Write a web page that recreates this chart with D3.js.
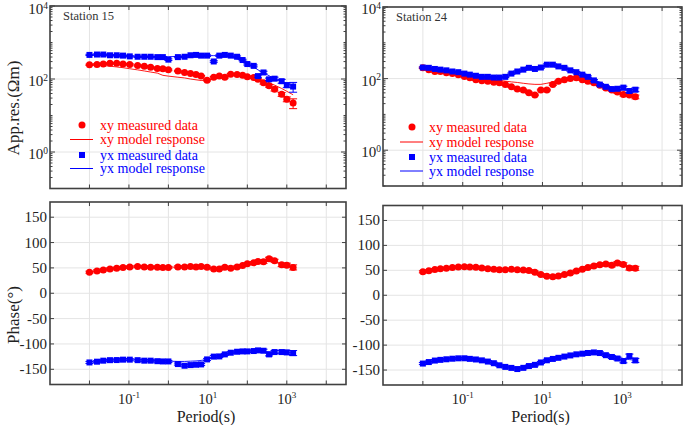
<!DOCTYPE html>
<html><head><meta charset="utf-8">
<script src="https://cdn.jsdelivr.net/npm/d3@7"></script>
<style>
body{margin:0;background:#fff}
</style>
</head><body>
<svg id="chart" width="685" height="425" font-family="'Liberation Serif', 'DejaVu Serif', serif"></svg>
<script>
// ---------------- DATA ----------------
const stationNames = ["Station 15", "Station 24"];
const legendLabels = ["xy measured data", "xy model response", "yx measured data", "yx model response"];
const rhoTickExp = [0, 2, 4];
const periodTickExp = [-1, 1, 3];
const phaseTicks = [-150, -100, -50, 0, 50, 100, 150];

// Station 15
const st15Period = [0.01, 0.0155, 0.0224, 0.0331, 0.049, 0.0708, 0.105, 0.166, 0.245, 0.355, 0.525, 0.724, 1.0,
  1.74, 2.57, 3.63, 5.01, 6.76, 9.55, 14.1, 19.5, 26.9, 38.0, 55.0, 75.9, 100, 145, 186, 257, 355, 490, 741, 1000, 1445];
const st15RhoXY = [245, 251, 257, 269, 269, 257, 251, 234, 224, 209, 195, 191, 178, 166, 151, 141, 132, 120, 93, 112,
  120, 112, 135, 132, 126, 115, 110, 98, 79, 65, 52, 38, 28, 22];
const st15RhoXYModel = [245, 240, 234, 224, 214, 204, 191, 178, 166, 155, 145, 126, 120, 112, 107, 100, 95, 91, 93, 100,
  110, 117, 123, 126, 123, 117, 110, 102, 91, 79, 68, 55, 46, 37];
const st15RhoYX = [457, 468, 468, 447, 447, 437, 417, 407, 407, 407, 398, 398, 339, 398, 407, 447, 457, 437, 437, 302,
  437, 457, 437, 407, 331, 257, 229, 120, 151, 98, 102, 87, 68, 62];
const st15RhoYXModel = [457, 457, 447, 447, 437, 437, 427, 417, 417, 407, 407, 407, 407, 417, 427, 437, 437, 437, 437, 437,
  437, 427, 398, 355, 302, 257, 214, 178, 148, 123, 102, 85, 74, 65];
const st15RhoErr = [0.04, 0.04, 0.04, 0.04, 0.04, 0.04, 0.04, 0.04, 0.04, 0.04, 0.04, 0.04, 0.05, 0.04, 0.04, 0.04, 0.04,
  0.04, 0.05, 0.05, 0.05, 0.05, 0.05, 0.05, 0.05, 0.06, 0.06, 0.07, 0.08, 0.08, 0.1, 0.12, 0.15, 0.3];
const st15PhaseXY = [41.5, 44, 46, 48, 49.5, 51, 52, 53, 52, 51.5, 51.5, 51, 51, 52, 52, 53, 52, 53, 51.5, 48,
  48, 51.5, 49.5, 52, 54.7, 58, 60, 62.6, 62, 68, 64, 56, 55.4, 51];
const st15PhaseXYModel = [42, 44.5, 46.5, 48.5, 50, 51, 52, 52.5, 52.5, 52, 51.5, 51.5, 51.5, 51.5, 52, 52, 52, 51.5, 50.5, 49.5,
  49, 49.5, 50.5, 52, 54, 56.5, 59, 61, 62.5, 63, 61.5, 58, 55, 52];
const st15PhaseYX = [-136.5, -135, -133, -132, -131.8, -131, -131, -132, -133, -133, -134, -134.5, -134.5, -139.7, -143,
  -141.7, -141, -140.4, -130.5, -125, -124.6, -120.6, -117.3, -115.4, -114.7, -114.7, -114, -112.7, -113.4, -120.6,
  -116, -116, -116.7, -118];
const st15PhaseYXModel = [-136, -134.5, -133, -132, -131.5, -131, -131, -131.5, -132, -132.5, -133, -133.5, -134, -134.5,
  -134.5, -134, -133.5, -132.5, -130.5, -127, -123.5, -121, -118.5, -117, -116, -115, -114.5, -114.5, -115, -115.5,
  -116, -116.5, -117, -117.5];
const st15PhaseErr = [2, 2, 2, 2, 2, 2, 2, 2, 2, 2, 2, 2, 2, 2, 2, 2, 2, 2, 2, 2, 2, 2, 2, 2, 2, 2, 2.5, 2.5, 3, 3, 3, 3.5, 4, 5];

// Station 24
const st24Period = [0.01, 0.0141, 0.02, 0.0275, 0.0389, 0.055, 0.0776, 0.11, 0.151, 0.214, 0.302, 0.427, 0.603, 0.832,
  1.17, 1.66, 2.34, 3.31, 4.57, 6.46, 9.12, 12.9, 18.2, 25.1, 35.5, 50.1, 70.8, 100, 138, 195, 275, 389, 550, 759,
  1072, 1514, 2138];
const st24RhoXY = [200, 178, 158, 158, 145, 138, 129, 115, 105, 93, 87, 85, 79, 76, 68, 59, 51, 48, 40, 35, 48, 48, 68,
  85, 93, 100, 105, 93, 85, 76, 65, 55, 48, 42, 36, 35, 31];
const st24RhoXYModel = [200, 186, 174, 162, 151, 141, 132, 123, 115, 107, 102, 98, 93, 89, 85, 81, 78, 74, 71, 69, 69,
  74, 81, 89, 95, 100, 100, 95, 87, 78, 68, 59, 51, 45, 39, 35, 32];
const st24RhoYX = [204, 200, 186, 178, 170, 158, 151, 138, 129, 120, 112, 112, 107, 107, 112, 138, 158, 178, 200, 186,
  204, 245, 245, 219, 200, 170, 151, 129, 112, 89, 68, 59, 51, 52, 56, 45, 49];
const st24RhoYXModel = [204, 196, 186, 178, 170, 161, 153, 144, 135, 127, 120, 114, 110, 108, 112, 125, 145, 165, 185,
  200, 215, 230, 235, 225, 205, 182, 158, 135, 114, 95, 79, 66, 57, 51, 48, 46, 45];
const st24RhoErr = [0.04, 0.04, 0.04, 0.04, 0.04, 0.04, 0.04, 0.04, 0.04, 0.04, 0.04, 0.04, 0.04, 0.04, 0.04, 0.04, 0.04,
  0.04, 0.05, 0.05, 0.05, 0.05, 0.05, 0.05, 0.05, 0.05, 0.05, 0.05, 0.06, 0.06, 0.06, 0.07, 0.07, 0.08, 0.09, 0.1, 0.12];
const st24PhaseXY = [47, 49, 51.5, 53, 54, 55.5, 56.5, 57, 56.5, 56, 54.7, 53.3, 52.2, 51.2, 51, 52, 51.3, 50.7, 49.6,
  46.3, 41.5, 38, 37.3, 38.8, 41.5, 44.5, 48.5, 52, 55.5, 58.8, 61, 62.7, 60, 64.5, 61.5, 54.6, 54];
const st24PhaseXYModel = [47, 49.5, 51.5, 53, 54.3, 55.5, 56.3, 56.6, 56.3, 55.6, 54.6, 53.5, 52.5, 51.7, 51.2, 50.8,
  50.2, 49, 46.5, 43, 40, 38.5, 38.5, 40, 42.5, 45.5, 48.8, 52, 55, 57.5, 59.5, 60.8, 61.3, 60.8, 59.5, 57.5, 55];
const st24PhaseYX = [-137, -134, -131, -129.6, -128.4, -127.3, -126.5, -126.4, -127.6, -128.8, -130.6, -133, -136.3,
  -140.5, -143.7, -145.7, -148, -145.6, -142, -139.6, -134.8, -130.4, -127.7, -125.5, -123, -120.7, -118.5, -117.2,
  -115.8, -114.7, -115.9, -120.2, -123.8, -126.9, -132, -122, -130.7];
const st24PhaseYXModel = [-137, -134, -131.5, -129.5, -128, -127, -126.5, -126.5, -127.3, -128.8, -130.8, -133.5, -136.5,
  -139.8, -142.8, -144.8, -145.6, -144.8, -142.5, -139, -135, -131.3, -128, -125.2, -122.8, -120.7, -118.9, -117.5,
  -116.5, -116.2, -116.8, -118.5, -121, -124, -126.8, -129, -130.5];
const st24PhaseErr = [2, 2, 2, 2, 2, 2, 2, 2, 2, 2, 2, 2, 2, 2, 2, 2, 2, 2, 2, 2, 2, 2, 2, 2, 2, 2, 2, 2, 2, 2, 2.5, 2.5,
  3, 3, 3.5, 4, 4];

// ---------------- LAYOUT / STYLE ----------------
const RED = "#ff0000", BLUE = "#0000ff", FRAME = "#404040", GRID = "#e4e4e4";
const svg = d3.select("#chart");
const stations = [
  {name: stationNames[0], period: st15Period, rxy: st15RhoXY, rxyM: st15RhoXYModel, ryx: st15RhoYX, ryxM: st15RhoYXModel,
   rErr: st15RhoErr, pxy: st15PhaseXY, pxyM: st15PhaseXYModel, pyx: st15PhaseYX, pyxM: st15PhaseYXModel, pErr: st15PhaseErr,
   rhoBox: {x: 50, y: 6, w: 296, h: 182.5}, phBox: {x: 50, y: 202, w: 296, h: 182.5},
   leg: {rows: [119, 133.5, 149, 162.5], mx: 32, l0: 20, l1: 43, tx: 50}, showYLabel: true},
  {name: stationNames[1], period: st24Period, rxy: st24RhoXY, rxyM: st24RhoXYModel, ryx: st24RhoYX, ryxM: st24RhoYXModel,
   rErr: st24RhoErr, pxy: st24PhaseXY, pxyM: st24PhaseXYModel, pyx: st24PhaseYX, pyxM: st24PhaseYXModel, pErr: st24PhaseErr,
   rhoBox: {x: 383, y: 7, w: 299, h: 179}, phBox: {x: 383, y: 205.5, w: 299, h: 179.5},
   leg: {rows: [120, 135, 150, 164], mx: 29, l0: 17, l1: 40, tx: 46}, showYLabel: false}
];

function supText(g, x, y, base, exp, anchor, size, expSize, rise) {
  const t = g.append("text").attr("x", x).attr("y", y).attr("text-anchor", anchor)
    .attr("font-size", size).attr("fill", "#222");
  t.append("tspan").text(base);
  t.append("tspan").attr("dy", -rise).attr("font-size", expSize).text(exp);
  return t;
}

let clipId = 0;
function panel(box, xs, ys, logY) {
  const g = svg.append("g");
  const id = "clip" + (clipId++);
  svg.append("clipPath").attr("id", id).append("rect")
    .attr("x", box.x).attr("y", box.y).attr("width", box.w).attr("height", box.h);
  const decades = d3.range(-2, 5).map(e => Math.pow(10, e));
  g.selectAll(".gx").data(decades).join("line")
    .attr("x1", d => xs(d)).attr("x2", d => xs(d)).attr("y1", box.y).attr("y2", box.y + box.h)
    .attr("stroke", GRID).attr("stroke-width", 1);
  const gy = logY ? rhoTickExp.map(e => Math.pow(10, e)) : phaseTicks;
  g.selectAll(".gy").data(gy).join("line")
    .attr("x1", box.x).attr("x2", box.x + box.w).attr("y1", d => ys(d)).attr("y2", d => ys(d))
    .attr("stroke", GRID).attr("stroke-width", 1);
  const plot = g.append("g").attr("clip-path", `url(#${id})`);
  return {g, plot};
}

function frameAndTicks(g, box, xs, ys, logY) {
  const ticks = g.append("g").attr("stroke", FRAME).attr("stroke-width", 1);
  const decades = d3.range(-2, 5).map(e => Math.pow(10, e));
  decades.forEach(d => {
    ticks.append("line").attr("x1", xs(d)).attr("x2", xs(d)).attr("y1", box.y + box.h).attr("y2", box.y + box.h - 4);
    ticks.append("line").attr("x1", xs(d)).attr("x2", xs(d)).attr("y1", box.y).attr("y2", box.y + 4);
  });
  if (logY) {
    const dom = ys.domain();
    const all = ys.ticks(40).filter(v => v >= dom[0] && v <= dom[1]);
    all.forEach(v => {
      const lg = Math.log10(v);
      const major = rhoTickExp.includes(Math.round(lg)) && Math.abs(lg - Math.round(lg)) < 1e-9;
      const len = major ? 5 : 2.5;
      ticks.append("line").attr("x1", box.x).attr("x2", box.x + len).attr("y1", ys(v)).attr("y2", ys(v));
      ticks.append("line").attr("x1", box.x + box.w).attr("x2", box.x + box.w - len).attr("y1", ys(v)).attr("y2", ys(v));
    });
  } else {
    phaseTicks.forEach(v => {
      ticks.append("line").attr("x1", box.x).attr("x2", box.x + 4).attr("y1", ys(v)).attr("y2", ys(v));
      ticks.append("line").attr("x1", box.x + box.w).attr("x2", box.x + box.w - 4).attr("y1", ys(v)).attr("y2", ys(v));
    });
  }
  g.append("rect").attr("x", box.x).attr("y", box.y).attr("width", box.w).attr("height", box.h)
    .attr("fill", "none").attr("stroke", FRAME).attr("stroke-width", 1.6);
}

function drawSeries(plot, xs, ys, period, vals, model, err, color, shape, relErr) {
  const line = d3.line().x((d, i) => xs(period[i])).y(d => ys(d));
  const eb = plot.append("g").attr("stroke", color).attr("stroke-width", 1);
  vals.forEach((v, i) => {
    const x = xs(period[i]);
    const lo = relErr ? v * (1 - err[i]) : v - err[i];
    const hi = relErr ? v * (1 + err[i]) : v + err[i];
    eb.append("line").attr("x1", x).attr("x2", x).attr("y1", ys(lo)).attr("y2", ys(hi));
    eb.append("line").attr("x1", x - 4).attr("x2", x + 4).attr("y1", ys(lo)).attr("y2", ys(lo));
    eb.append("line").attr("x1", x - 4).attr("x2", x + 4).attr("y1", ys(hi)).attr("y2", ys(hi));
  });
  if (shape === "circle") {
    plot.append("g").selectAll("circle").data(vals).join("circle")
      .attr("cx", (d, i) => xs(period[i])).attr("cy", d => ys(d)).attr("r", 3.5).attr("fill", color);
  } else {
    plot.append("g").selectAll("rect").data(vals).join("rect")
      .attr("x", (d, i) => xs(period[i]) - 3).attr("y", d => ys(d) - 3).attr("width", 6).attr("height", 6).attr("fill", color);
  }
  plot.append("path").datum(model).attr("d", line).attr("fill", "none").attr("stroke", color).attr("stroke-width", 0.9);
}

stations.forEach(st => {
  // ---------- apparent resistivity ----------
  const rb = st.rhoBox;
  const xr = d3.scaleLog().domain([1e-3, Math.pow(10, 4.5)]).range([rb.x, rb.x + rb.w]);
  const yr = d3.scaleLog().domain([0.1, 1e4]).range([rb.y + rb.h, rb.y]);
  const P1 = panel(rb, xr, yr, true);
  drawSeries(P1.plot, xr, yr, st.period, st.rxy, st.rxyM, st.rErr, RED, "circle", true);
  drawSeries(P1.plot, xr, yr, st.period, st.ryx, st.ryxM, st.rErr, BLUE, "square", true);
  frameAndTicks(P1.g, rb, xr, yr, true);
  rhoTickExp.forEach(e => supText(svg, rb.x - 2, Math.max(yr(Math.pow(10, e)) + 7, 14), "10", String(e), "end", 15, 9.5, 5.5));
  svg.append("text").attr("x", rb.x + 13).attr("y", rb.y + 14).attr("font-size", 12.5).attr("fill", "#333").text(st.name);

  // legend
  const L = st.leg;
  const lg = svg.append("g");
  const legColors = [RED, RED, BLUE, BLUE];
  L.rows.forEach((ry, i) => {
    const yy = rb.y + ry;
    if (i === 0) lg.append("circle").attr("cx", rb.x + L.mx).attr("cy", yy).attr("r", 3.5).attr("fill", RED);
    if (i === 2) lg.append("rect").attr("x", rb.x + L.mx - 3).attr("y", yy - 3).attr("width", 6).attr("height", 6).attr("fill", BLUE);
    if (i === 1 || i === 3) lg.append("line").attr("x1", rb.x + L.l0).attr("x2", rb.x + L.l1).attr("y1", yy).attr("y2", yy)
      .attr("stroke", legColors[i]).attr("stroke-width", 1);
    lg.append("text").attr("x", rb.x + L.tx).attr("y", yy + 4.5).attr("font-size", 14).attr("fill", legColors[i]).text(legendLabels[i]);
  });

  // ---------- phase ----------
  const pb = st.phBox;
  const xp = d3.scaleLog().domain([1e-3, Math.pow(10, 4.5)]).range([pb.x, pb.x + pb.w]);
  const yp = d3.scaleLinear().domain([-180, 180]).range([pb.y + pb.h, pb.y]);
  const P2 = panel(pb, xp, yp, false);
  drawSeries(P2.plot, xp, yp, st.period, st.pxy, st.pxyM, st.pErr, RED, "circle", false);
  drawSeries(P2.plot, xp, yp, st.period, st.pyx, st.pyxM, st.pErr, BLUE, "square", false);
  frameAndTicks(P2.g, pb, xp, yp, false);
  phaseTicks.forEach(v => svg.append("text").attr("x", pb.x - 3).attr("y", yp(v) + 5)
    .attr("text-anchor", "end").attr("font-size", 15).attr("fill", "#222").text(v));
  periodTickExp.forEach(e => supText(svg, xp(Math.pow(10, e)), 403.5, "10", String(e), "middle", 14.5, 9, 5.5));
  svg.append("text").attr("x", pb.x + pb.w * 0.527).attr("y", 422).attr("text-anchor", "middle")
    .attr("font-size", 16).attr("fill", "#222").text("Period(s)");

  if (st.showYLabel) {
    svg.append("text").attr("transform", "translate(19,108) rotate(-90)").attr("text-anchor", "middle")
      .attr("font-size", 17).attr("fill", "#222").text("App.res.(Ωm)");
    svg.append("text").attr("transform", "translate(19,315) rotate(-90)").attr("text-anchor", "middle")
      .attr("font-size", 17).attr("fill", "#222").text("Phase(°)");
  }
});
</script>
</body></html>
